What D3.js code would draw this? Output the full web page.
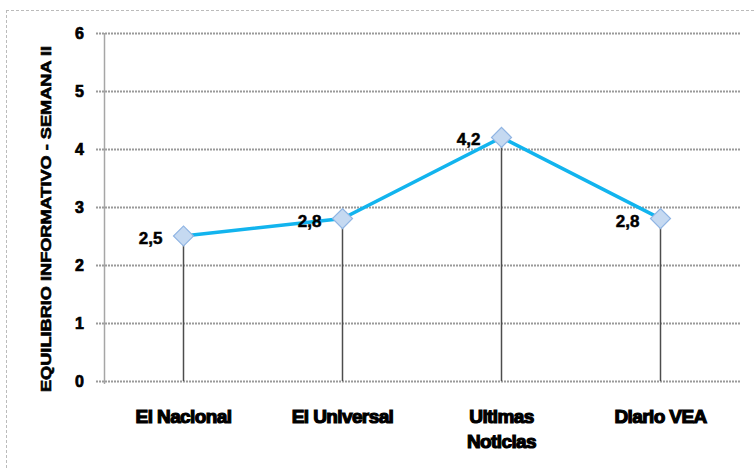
<!DOCTYPE html>
<html>
<head>
<meta charset="utf-8">
<script src="https://cdn.jsdelivr.net/npm/d3@7"></script>
<style>
  body { margin: 0; background: #fff; }
  text { font-family: "Liberation Sans", Arial, sans-serif; font-weight: bold; fill: #000; }
</style>
</head>
<body>
<svg id="chart" width="756" height="470"></svg>
<script>
var categories = [['El Nacional'], ['El Universal'], ['Ultimas', 'Noticias'], ['Diario VEA']]
var values = [2.5, 2.8, 4.2, 2.8]
var valueLabels = ['2,5', '2,8', '4,2', '2,8']
var yTicks = [0, 1, 2, 3, 4, 5, 6]
var yTitle = 'EQUILIBRIO INFORMATIVO -  SEMANA II'

var svg = d3.select('#chart')
var plotLeft = 104, plotRight = 740, plotTop = 33, plotBottom = 381

// frame of the chart area (only top and left edges show)
svg.append('line').attr('x1', 6).attr('x2', 756).attr('y1', 10.5).attr('y2', 10.5)
  .attr('stroke', '#bbb').attr('stroke-dasharray', '3,2')
svg.append('line').attr('x1', 6.5).attr('x2', 6.5).attr('y1', 10).attr('y2', 470)
  .attr('stroke', '#bbb').attr('stroke-dasharray', '3,2')

var x = d3.scaleBand().domain(categories.map((c, i) => i)).range([plotLeft, plotRight])
var y = d3.scaleLinear().domain([0, 6]).range([plotBottom, plotTop])

// gridlines
svg.append('g').selectAll('line').data(yTicks).enter().append('line')
  .attr('x1', plotLeft - 8).attr('x2', plotRight)
  .attr('y1', (d) => Math.round(y(d)) + 0.5).attr('y2', (d) => Math.round(y(d)) + 0.5)
  .attr('stroke', '#9a9a9a').attr('stroke-width', 2).attr('stroke-dasharray', '2,1')

// y axis line
svg.append('line').attr('x1', plotLeft + 0.5).attr('x2', plotLeft + 0.5).attr('y1', plotTop).attr('y2', plotBottom + 3)
  .attr('stroke', '#a6a6a6').attr('stroke-width', 1.5)

// y tick labels
svg.append('g').selectAll('text').data(yTicks).enter().append('text')
  .attr('x', 84).attr('y', (d) => y(d)).attr('dy', '0.36em')
  .attr('text-anchor', 'end').style('font-size', '16px')
  .attr('stroke', '#000').attr('stroke-width', 0.7)
  .text((d) => d)

// y title
svg.append('text')
  .attr('transform', 'translate(51,' + 219 + ') rotate(-90)')
  .attr('text-anchor', 'middle').style('font-size', '15px')
  .attr('textLength', 346).attr('lengthAdjust', 'spacingAndGlyphs')
  .attr('stroke', '#000').attr('stroke-width', 0.6)
  .text(yTitle)

var cx = (i) => x(i) + x.bandwidth() / 2

// drop lines
svg.append('g').selectAll('line').data(values).enter().append('line')
  .attr('x1', (d, i) => cx(i)).attr('x2', (d, i) => cx(i))
  .attr('y1', (d) => y(d)).attr('y2', plotBottom)
  .attr('stroke', '#4d4d4d').attr('stroke-width', 1.5)

// series line
svg.append('path').datum(values)
  .attr('d', d3.line().x((d, i) => cx(i)).y((d) => y(d)))
  .attr('fill', 'none').attr('stroke', '#12b4ee').attr('stroke-width', 3.5)

// diamond markers
svg.append('g').selectAll('path').data(values).enter().append('path')
  .attr('d', d3.symbol().type(d3.symbolSquare).size(200))
  .attr('transform', (d, i) => 'translate(' + cx(i) + ',' + y(d) + ') rotate(45)')
  .attr('fill', '#c5d9f1').attr('stroke', '#8fb4e3').attr('stroke-width', 1.2)

// value labels
svg.append('g').selectAll('text').data(values).enter().append('text')
  .attr('x', (d, i) => cx(i) - 21).attr('y', (d) => y(d) + 8)
  .attr('text-anchor', 'end').style('font-size', '17px')
  .attr('stroke', '#000').attr('stroke-width', 0.5)
  .text((d, i) => valueLabels[i])

// category labels
var cat = svg.append('g').selectAll('text').data(categories).enter().append('text')
  .attr('x', (d, i) => cx(i)).attr('y', 423)
  .attr('text-anchor', 'middle').style('font-size', '19px').style('letter-spacing', '-0.6px')
  .attr('stroke', '#000').attr('stroke-width', 1.2)
cat.selectAll('tspan').data((d) => d).enter().append('tspan')
  .attr('x', function () { return d3.select(this.parentNode).attr('x') })
  .attr('dy', (d, i) => i ? 25 : 0)
  .text((d) => d)
</script>
</body>
</html>
